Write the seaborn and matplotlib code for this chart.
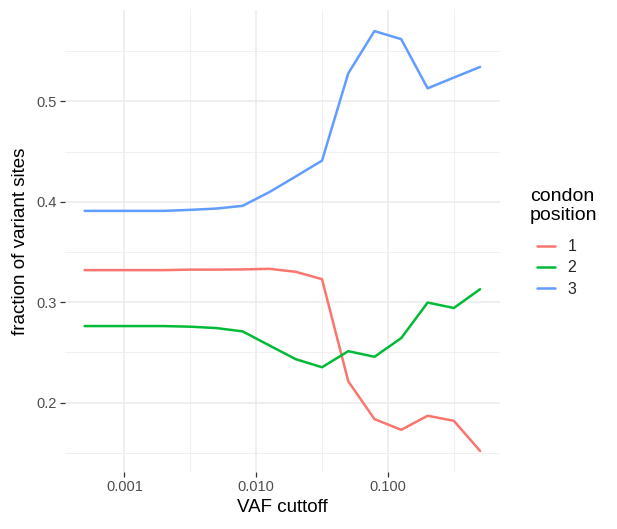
import pandas as pd
import numpy as np
import matplotlib
matplotlib.use("Agg")
import matplotlib.pyplot as plt
import seaborn as sns

# VAF cutoffs (log spaced) and fraction of variant sites per codon position
vaf_cutoff = [0.0005, 0.00079, 0.00126, 0.002, 0.00316, 0.005, 0.0079, 0.0126,
              0.02, 0.0316, 0.05, 0.079, 0.126, 0.2, 0.316, 0.5]
pos1 = [0.332, 0.332, 0.332, 0.332, 0.3325, 0.3325, 0.3327, 0.3333,
        0.3303, 0.323, 0.2213, 0.1837, 0.173, 0.187, 0.182, 0.152]
pos2 = [0.2763, 0.2763, 0.2763, 0.2763, 0.2757, 0.2743, 0.271, 0.257,
        0.2433, 0.2353, 0.2513, 0.2457, 0.2643, 0.2997, 0.2943, 0.313]
pos3 = [0.391, 0.391, 0.391, 0.391, 0.392, 0.3933, 0.396, 0.4097,
        0.4253, 0.441, 0.528, 0.570, 0.562, 0.513, 0.5237, 0.5343]
positions = ["1", "2", "3"]
colors = ["#F8766D", "#00BA38", "#619CFF"]

df = pd.DataFrame({
    "vaf": vaf_cutoff * 3,
    "frac": pos1 + pos2 + pos3,
    "pos": [p for p in positions for _ in vaf_cutoff],
})

sns.set_theme(style="white")
plt.rcParams["font.family"] = ["Liberation Sans", "DejaVu Sans"]

fig = plt.figure(figsize=(6.17, 5.29), dpi=100)
ax = fig.add_axes([65 / 617, 1 - 472 / 529, 435 / 617, 462 / 529])

sns.lineplot(data=df, x="vaf", y="frac", hue="pos", palette=colors,
             linewidth=1.8, ax=ax, legend=True)

ax.set_xscale("log")
ax.set_xlim(10 ** -3.45, 10 ** -0.15)
ax.set_ylim(0.131, 0.591)

# major / minor breaks like ggplot
ax.set_xticks([0.001, 0.01, 0.1])
ax.set_xticklabels(["0.001", "0.010", "0.100"])
ax.set_xticks([10 ** -2.5, 10 ** -1.5, 10 ** -0.5], minor=True)
ax.set_yticks([0.2, 0.3, 0.4, 0.5])
ax.set_yticklabels(["0.2", "0.3", "0.4", "0.5"])
ax.set_yticks([0.15, 0.25, 0.35, 0.45, 0.55], minor=True)
ax.xaxis.set_minor_formatter(matplotlib.ticker.NullFormatter())

ax.grid(which="major", color="#EBEBEB", linewidth=1.1)
ax.grid(which="minor", color="#EEEEEE", linewidth=0.6)
ax.set_axisbelow(True)
for s in ax.spines.values():
    s.set_visible(False)

ax.tick_params(axis="both", which="major", length=3.5, width=0.9, color="#333333",
               labelcolor="#4D4D4D", labelsize=10.5, pad=2.5)
ax.tick_params(axis="both", which="minor", length=0)
ax.tick_params(axis="x", which="major", bottom=True)
ax.tick_params(axis="y", which="major", left=True)

ax.set_xlabel("VAF cuttoff", fontsize=13.5, color="black", labelpad=3)
ax.set_ylabel("fraction of variant sites", fontsize=13.5, color="black", labelpad=5)

# legend: title drawn as text so the gap matches ggplot
handles, labels = ax.get_legend_handles_labels()
ax.get_legend().remove()
fig.text(530 / 617, 1 - 188 / 529, "condon\nposition", fontsize=14,
         linespacing=1.15, va="top", ha="left", color="black")
leg = fig.legend(handles, labels, loc="upper left",
                 bbox_to_anchor=(523 / 617, 1 - 225 / 529), frameon=False,
                 fontsize=11.5, handlelength=1.1, handletextpad=0.8,
                 labelspacing=0.38)
for h in leg.get_lines():
    h.set_linewidth(1.8)

fig.savefig("out.png", dpi=100)
